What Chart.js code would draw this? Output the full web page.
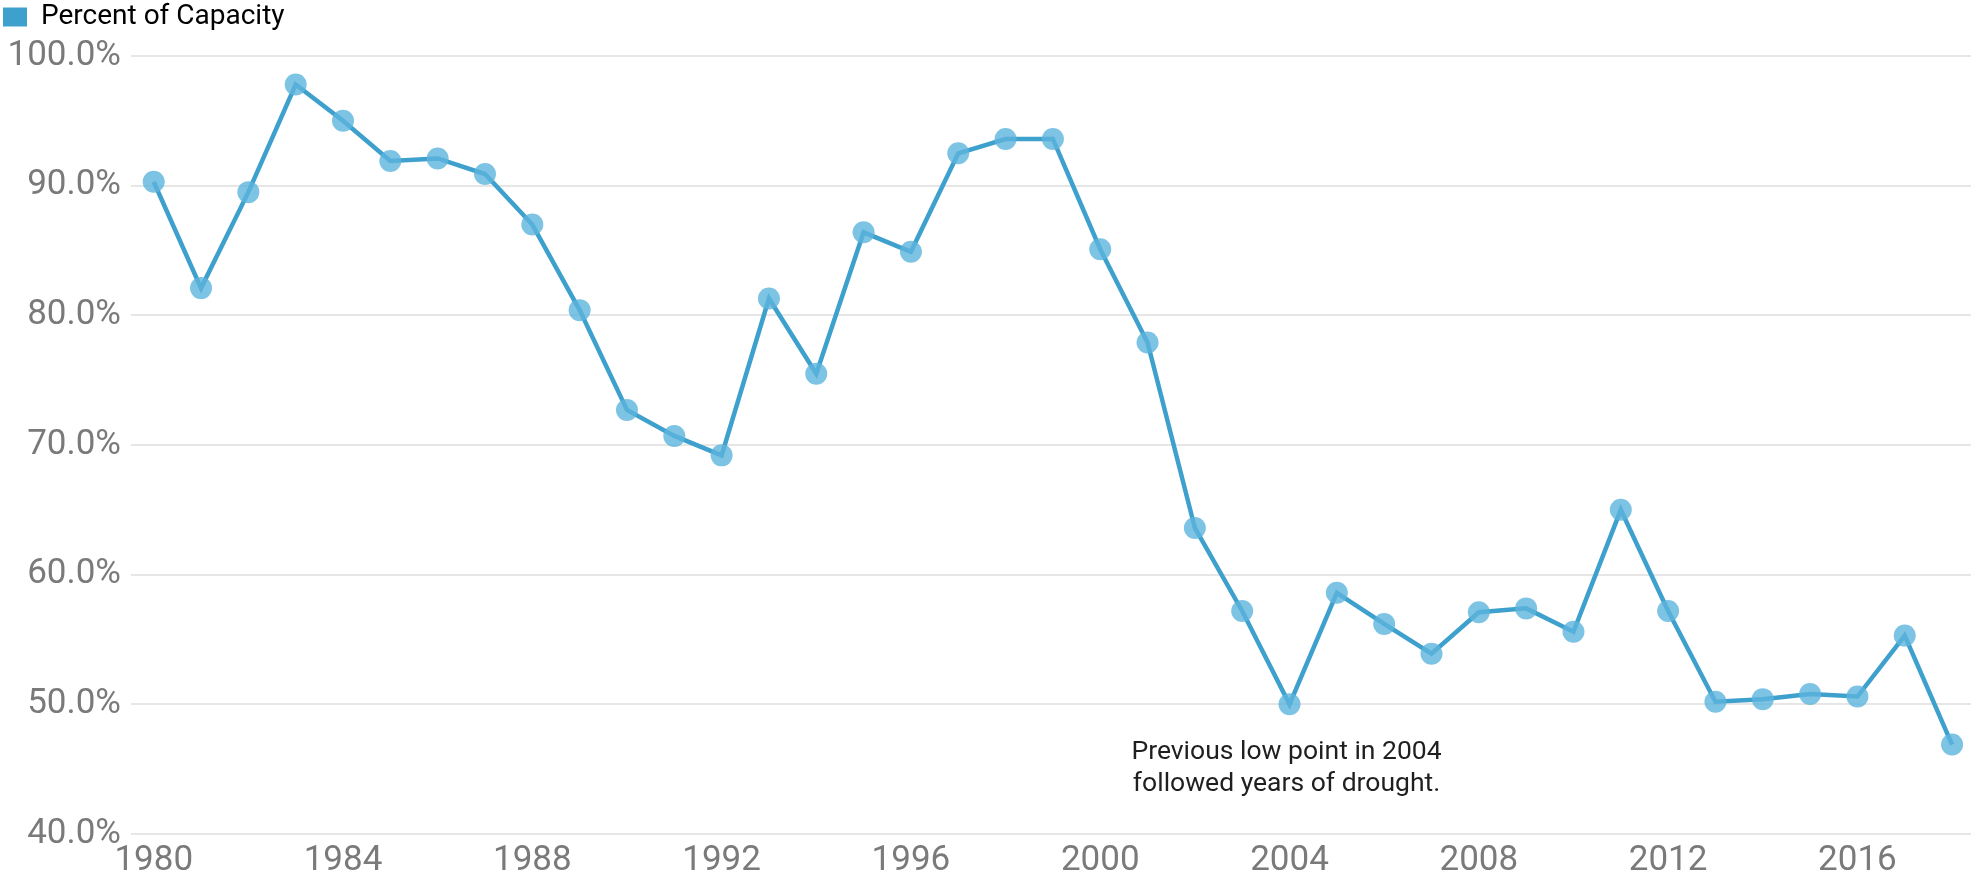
<!DOCTYPE html>
<html>
<head>
<meta charset="utf-8">
<title>Percent of Capacity</title>
<script src="https://cdn.jsdelivr.net/npm/chart.js@4/dist/chart.umd.min.js"></script>
<style>
  html, body { margin: 0; padding: 0; background: #fff; }
  #wrap { width: 1982px; height: 879px; position: relative; }
</style>
</head>
<body>
<div id="wrap"><canvas id="chartCapacity"></canvas></div>
<script>
const years = [1980, 1981, 1982, 1983, 1984, 1985, 1986, 1987, 1988, 1989,
  1990, 1991, 1992, 1993, 1994, 1995, 1996, 1997, 1998, 1999,
  2000, 2001, 2002, 2003, 2004, 2005, 2006, 2007, 2008, 2009,
  2010, 2011, 2012, 2013, 2014, 2015, 2016, 2017, 2018];
const capacity = [90.3, 82.1, 89.5, 97.8, 95.0, 91.9, 92.1, 90.9, 87.0, 80.4,
  72.7, 70.7, 69.2, 81.3, 75.5, 86.4, 84.9, 92.5, 93.6, 93.6,
  85.1, 77.9, 63.6, 57.2, 50.0, 58.6, 56.2, 53.9, 57.1, 57.4,
  55.6, 65.0, 57.2, 50.2, 50.4, 50.8, 50.6, 55.3, 46.9];
const xTicks = [1980, 1984, 1988, 1992, 1996, 2000, 2004, 2008, 2012, 2016];
const yTicks = [40, 50, 60, 70, 80, 90, 100];
const seriesName = 'Percent of Capacity';
const noteLines = ['Previous low point in 2004', 'followed years of drought.'];
const noteAt = { year: 2004, value: 46.3 };

const lineColor = '#3ea0cd';
const fontFamily = 'Roboto, "Noto Sans", sans-serif';

// texte d'annotation sous le point bas de 2004
const notePlugin = {
  id: 'note',
  afterLayout(chart) {
    // garder la légende collée en haut du canvas
    const lg = chart.legend;
    if (lg) {
      const h = lg.height;
      lg.top = 0;
      lg.bottom = h;
    }
  },
  afterDatasetsDraw(chart) {
    const ctx = chart.ctx;
    const x = chart.scales.x.getPixelForValue(noteAt.year) - 3;
    const y = chart.scales.y.getPixelForValue(noteAt.value);
    ctx.save();
    ctx.font = '26.5px ' + fontFamily;
    ctx.fillStyle = '#1f1f1f';
    ctx.textAlign = 'center';
    ctx.textBaseline = 'middle';
    noteLines.forEach(function(t, i) {
      ctx.fillText(t, x, y + i * 32);
    });
    ctx.restore();
  }
};

const ctx = document.getElementById('chartCapacity').getContext('2d');
new Chart(ctx, {
  type: 'line',
  data: {
    datasets: [{
      label: seriesName,
      data: years.map(function(y, i) { return { x: y, y: capacity[i] }; }),
      borderColor: lineColor,
      borderWidth: 4.5,
      backgroundColor: 'rgba(92, 180, 220, 0.8)',
      pointBackgroundColor: 'rgba(92, 180, 220, 0.8)',
      pointBorderWidth: 0,
      pointRadius: 11,
      tension: 0,
      fill: false
    }]
  },
  options: {
    responsive: true,
    maintainAspectRatio: false,
    animation: false,
    layout: { padding: 0 },
    plugins: {
      legend: {
        display: true,
        position: 'top',
        align: 'start',
        labels: {
          boxWidth: 24,
          boxHeight: 19,
          padding: 3,
          color: '#1f1f1f',
          font: { family: fontFamily, size: 28 },
          generateLabels: function(chart) {
            return chart.data.datasets.map(function(ds, i) {
              return {
                text: ds.label,
                fillStyle: lineColor,
                strokeStyle: lineColor,
                lineWidth: 0,
                datasetIndex: i
              };
            });
          }
        }
      },
      tooltip: { enabled: false }
    },
    scales: {
      x: {
        type: 'linear',
        min: 1979.52,
        max: 2018.4,
        grid: { display: false, drawTicks: false },
        border: { display: false },
        afterBuildTicks: function(scale) {
          scale.ticks = xTicks.map(function(v) { return { value: v }; });
        },
        afterFit: function(scale) {
          scale.height = 45;
          scale.paddingLeft = 0;
          scale.paddingRight = 0;
        },
        ticks: {
          padding: 6,
          color: '#7a7a7a',
          font: { family: fontFamily, size: 35 },
          maxRotation: 0,
          autoSkip: false,
          callback: function(v) { return String(v); }
        }
      },
      y: {
        min: 40,
        max: 100,
        grid: { color: '#e6e6e6', lineWidth: 2, drawTicks: false },
        border: { display: false },
        afterBuildTicks: function(scale) {
          scale.ticks = yTicks.map(function(v) { return { value: v }; });
        },
        afterFit: function(scale) {
          scale.width = 131;
          scale.paddingTop = 56;
        },
        ticks: {
          padding: 10,
          color: '#7a7a7a',
          font: { family: fontFamily, size: 35 },
          callback: function(v) { return v.toFixed(1) + '%'; }
        }
      }
    }
  },
  plugins: [notePlugin]
});
</script>
</body>
</html>
